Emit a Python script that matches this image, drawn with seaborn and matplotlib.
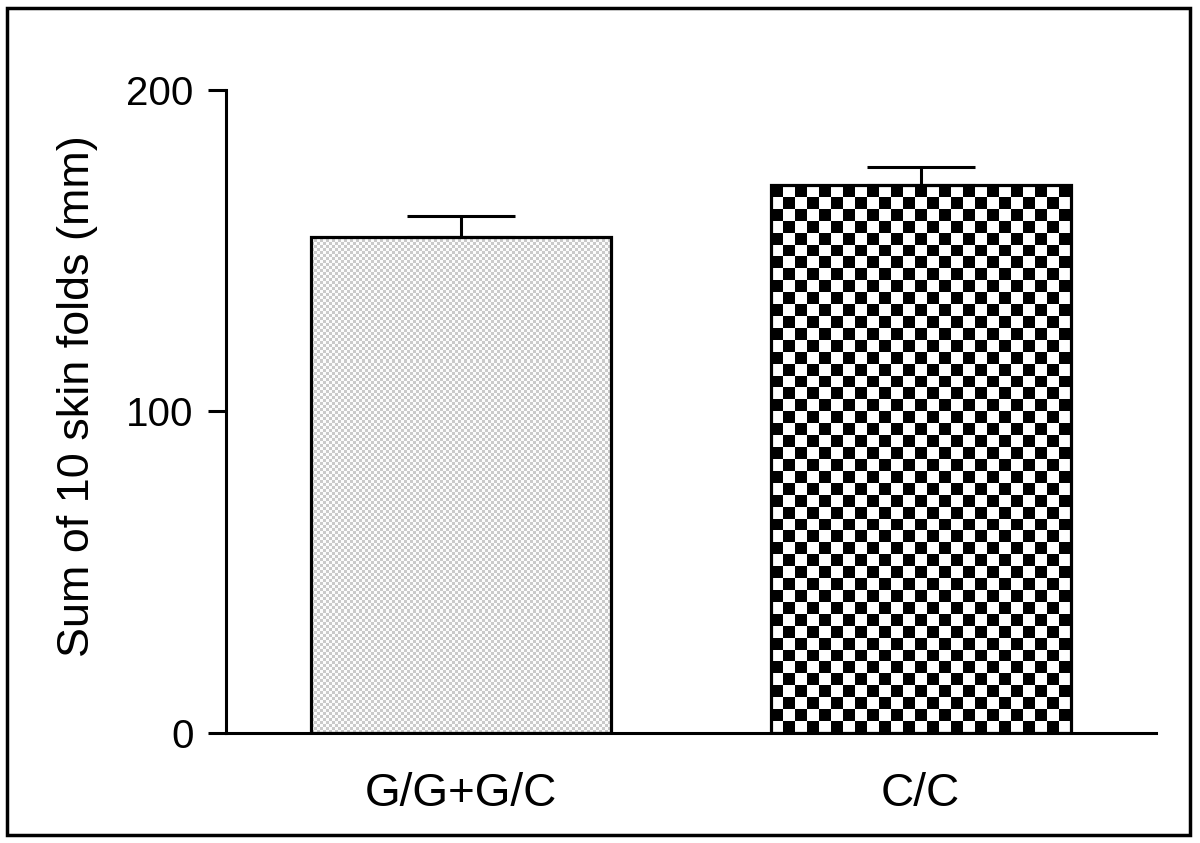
import numpy as np
import pandas as pd
import seaborn as sns
import matplotlib
matplotlib.use('Agg')
import matplotlib.pyplot as plt
from matplotlib.patches import Rectangle

# Datos
genotipos = ['G/G+G/C', 'C/C']
medias = [154.3, 170.4]
errores = [6.5, 5.6]
etiqueta_y = 'Sum of 10 skin folds (mm)'
ticks_y = [0, 100, 200]


def patron_tablero(patch, ax, celda_px, color_a, color_b):
    '''
    Rellena una barra con un patrón de tablero de ajedrez recortado a la barra.
    '''
    x0, y0 = patch.get_x(), patch.get_y()
    w, h = patch.get_width(), patch.get_height()
    # Tamaño de la barra en píxeles para calcular el número de celdas
    p0 = ax.transData.transform((x0, y0))
    p1 = ax.transData.transform((x0 + w, y0 + h))
    ncol = max(1, int(round(abs(p1[0] - p0[0]) / celda_px)))
    nfil = max(1, int(round(abs(p1[1] - p0[1]) / celda_px)))
    tablero = (np.add.outer(np.arange(nfil), np.arange(ncol)) % 2).astype(float)
    cmap = matplotlib.colors.ListedColormap([color_a, color_b])
    img = ax.imshow(tablero, extent=(x0, x0 + w, y0, y0 + h), origin='upper',
                    aspect='auto', interpolation='nearest', cmap=cmap, zorder=1.5)
    img.set_clip_path(patch)


def generar_grafico():
    df = pd.DataFrame({'genotipo': genotipos, 'media': medias, 'error': errores})

    plt.rcParams['font.family'] = ['Liberation Sans', 'DejaVu Sans']
    fig = plt.figure(figsize=(12, 8.43), dpi=100)
    ax = fig.add_axes([0.188, 0.1305, 0.775, 0.7628])

    sns.barplot(data=df, x='genotipo', y='media', ax=ax, width=0.652,
                color='white', edgecolor='black', linewidth=2.3,
                errorbar=None, zorder=2)

    ax.set_xlim(-0.511, 1.511)
    ax.set_ylim(0, 200)

    # Barras de error (solo hacia arriba)
    ax.errorbar(np.arange(len(df)), df['media'], yerr=[np.zeros(len(df)), df['error']],
                fmt='none', ecolor='black', elinewidth=2.2, capsize=39, capthick=2.2,
                zorder=3)

    # Patrones de relleno
    fig.canvas.draw()
    barras = ax.patches
    for b in barras:
        b.set_facecolor('none')
        b.set_zorder(2)
    patron_tablero(barras[0], ax, 3, '#cacaca', '#fcfcfc')
    patron_tablero(barras[1], ax, 12, 'black', 'white')
    ax.set_xlim(-0.511, 1.511)
    ax.set_ylim(0, 200)

    sns.despine(ax=ax)
    ax.spines['left'].set_linewidth(2.2)
    ax.spines['bottom'].set_linewidth(2.2)
    ax.spines['left'].set_zorder(4)
    ax.spines['bottom'].set_zorder(4)

    ax.set_yticks(ticks_y)
    ax.tick_params(axis='y', direction='out', length=13, width=2.2, pad=10,
                   labelsize=29)
    ax.tick_params(axis='x', length=0, pad=28, labelsize=33)
    ax.set_xlabel('')
    ax.set_ylabel(etiqueta_y, fontsize=32.3)
    ax.yaxis.set_label_coords(-0.137, 0.524)

    # Marco alrededor de la figura
    fig.patches.append(Rectangle((7 / 1200, 8 / 843), 1183 / 1200, 827 / 843,
                                 transform=fig.transFigure, fill=False,
                                 edgecolor='black', linewidth=2.5))

    fig.savefig('out.png', dpi=100, facecolor='white')


if __name__ == '__main__':
    generar_grafico()
